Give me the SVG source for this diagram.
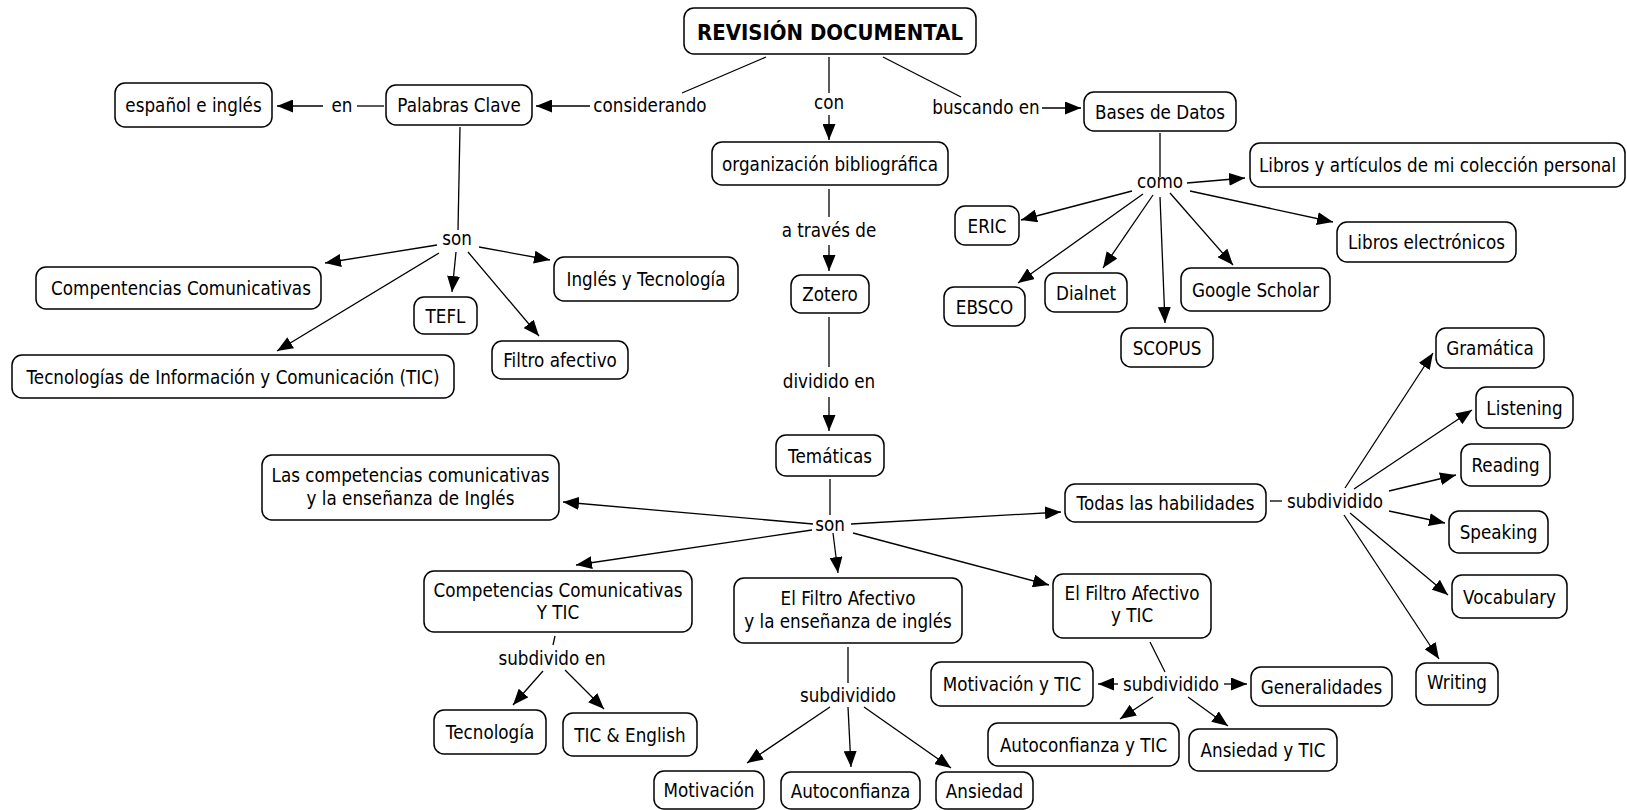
<svg xmlns="http://www.w3.org/2000/svg" width="1627" height="810" viewBox="0 0 1627 810">
<style>
.n rect{fill:#fff;stroke:#000;stroke-width:1.5}
text{font-family:"DejaVu Sans","Verdana",sans-serif;font-size:20px;fill:#000;text-anchor:middle}
.b{font-weight:bold;font-size:20.5px}
#connectors line{stroke:#000;stroke-width:1.3;fill:none}
#connectors line.a{marker-end:url(#ah)}
</style>
<defs>
<marker id="ah" markerUnits="userSpaceOnUse" markerWidth="16" markerHeight="13" refX="16" refY="6.5" orient="auto">
<path d="M0,0 L16,6.5 L0,13 z" fill="#000"/>
</marker>
</defs>
<rect width="1627" height="810" fill="#fff"/>
<g id="connectors">
<line x1="766" y1="57" x2="682" y2="93"/>
<line class="a" x1="590" y1="106" x2="536" y2="106"/>
<line x1="829" y1="57" x2="829" y2="93"/>
<line class="a" x1="829" y1="115" x2="829" y2="140"/>
<line x1="883" y1="57" x2="961" y2="97"/>
<line class="a" x1="1042" y1="108" x2="1081" y2="108"/>
<line x1="384" y1="106" x2="357" y2="106"/>
<line class="a" x1="323" y1="106" x2="277" y2="106"/>
<line x1="460" y1="127" x2="458" y2="230"/>
<line class="a" x1="437" y1="245" x2="325" y2="263"/>
<line class="a" x1="439" y1="253" x2="277" y2="351"/>
<line class="a" x1="456" y1="252" x2="452" y2="292"/>
<line class="a" x1="468" y1="252" x2="539" y2="336"/>
<line class="a" x1="479" y1="247" x2="550" y2="260"/>
<line x1="829" y1="189" x2="829" y2="217"/>
<line class="a" x1="829" y1="245" x2="829" y2="271"/>
<line x1="829" y1="317" x2="829" y2="367"/>
<line class="a" x1="829" y1="397" x2="829" y2="431"/>
<line x1="1160" y1="133" x2="1160" y2="177"/>
<line class="a" x1="1187" y1="183" x2="1245" y2="178"/>
<line class="a" x1="1132" y1="191" x2="1021" y2="220"/>
<line class="a" x1="1143" y1="194" x2="1018" y2="283"/>
<line class="a" x1="1153" y1="195" x2="1103" y2="268"/>
<line class="a" x1="1160" y1="197" x2="1165" y2="323"/>
<line class="a" x1="1170" y1="193" x2="1233" y2="265"/>
<line class="a" x1="1190" y1="191" x2="1333" y2="222"/>
<line x1="830" y1="479" x2="830" y2="515"/>
<line class="a" x1="813" y1="524" x2="563" y2="502"/>
<line class="a" x1="851" y1="524" x2="1061" y2="512"/>
<line class="a" x1="812" y1="530" x2="576" y2="565"/>
<line class="a" x1="833" y1="533" x2="838" y2="573"/>
<line class="a" x1="853" y1="533" x2="1049" y2="585"/>
<line x1="1270" y1="501" x2="1282" y2="501"/>
<line class="a" x1="1345" y1="488" x2="1433" y2="353"/>
<line class="a" x1="1354" y1="489" x2="1472" y2="410"/>
<line class="a" x1="1389" y1="491" x2="1456" y2="475"/>
<line class="a" x1="1389" y1="511" x2="1445" y2="523"/>
<line class="a" x1="1350" y1="513" x2="1448" y2="595"/>
<line class="a" x1="1344" y1="515" x2="1439" y2="659"/>
<line x1="555" y1="636" x2="553" y2="645"/>
<line class="a" x1="543" y1="671" x2="513" y2="705"/>
<line class="a" x1="565" y1="670" x2="604" y2="709"/>
<line x1="848" y1="647" x2="848" y2="683"/>
<line class="a" x1="830" y1="707" x2="747" y2="763"/>
<line class="a" x1="848" y1="707" x2="851" y2="767"/>
<line class="a" x1="864" y1="707" x2="951" y2="768"/>
<line x1="1150" y1="642" x2="1165" y2="672"/>
<line class="a" x1="1118" y1="684" x2="1098" y2="684"/>
<line class="a" x1="1224" y1="684" x2="1247" y2="684"/>
<line class="a" x1="1153" y1="697" x2="1120" y2="719"/>
<line class="a" x1="1188" y1="697" x2="1228" y2="726"/>
</g>
<g id="labels">
<text transform="matrix(0.84 0 0 1 342 112)">en</text>
<text transform="matrix(0.84 0 0 1 650 112)">considerando</text>
<text transform="matrix(0.84 0 0 1 829 109)">con</text>
<text transform="matrix(0.84 0 0 1 986 114)">buscando en</text>
<text transform="matrix(0.84 0 0 1 829 237)">a través de</text>
<text transform="matrix(0.84 0 0 1 829 388)">dividido en</text>
<text transform="matrix(0.84 0 0 1 457 245)">son</text>
<text transform="matrix(0.84 0 0 1 1160 188)">como</text>
<text transform="matrix(0.84 0 0 1 830 531)">son</text>
<text transform="matrix(0.84 0 0 1 1335 508)">subdividido</text>
<text transform="matrix(0.84 0 0 1 552 665)">subdivido en</text>
<text transform="matrix(0.84 0 0 1 848 702)">subdividido</text>
<text transform="matrix(0.84 0 0 1 1171 691)">subdividido</text>
</g>
<g id="title" class="n"><rect x="684" y="8" width="292" height="46" rx="10"/><text class="b" x="830" y="40" textLength="266" lengthAdjust="spacingAndGlyphs">REVISIÓN DOCUMENTAL</text></g>
<g id="espanol" class="n"><rect x="115" y="83" width="157" height="44" rx="10"/><text transform="matrix(0.84 0 0 1 193.5 112)">español e inglés</text></g>
<g id="palabras" class="n"><rect x="386" y="85" width="146" height="40" rx="10"/><text transform="matrix(0.84 0 0 1 459 112)">Palabras Clave</text></g>
<g id="bases" class="n"><rect x="1084" y="92" width="152" height="39" rx="10"/><text transform="matrix(0.84 0 0 1 1160 118.5)">Bases de Datos</text></g>
<g id="org" class="n"><rect x="712" y="142" width="236" height="43" rx="10"/><text transform="matrix(0.84 0 0 1 830 170.5)">organización bibliográfica</text></g>
<g id="libros_personal" class="n"><rect x="1250" y="143" width="375" height="44" rx="10"/><text transform="matrix(0.84 0 0 1 1437.5 172)">Libros y artículos de mi colección personal</text></g>
<g id="eric" class="n"><rect x="955" y="206" width="64" height="39" rx="10"/><text transform="matrix(0.84 0 0 1 987 232.5)">ERIC</text></g>
<g id="libros_elec" class="n"><rect x="1337" y="222" width="179" height="40" rx="10"/><text transform="matrix(0.84 0 0 1 1426.5 249)">Libros electrónicos</text></g>
<g id="ingles_tec" class="n"><rect x="554" y="257" width="184" height="44" rx="10"/><text transform="matrix(0.84 0 0 1 646 286)">Inglés y Tecnología</text></g>
<g id="compentencias" class="n"><rect x="36" y="267" width="285" height="42" rx="10"/><text transform="matrix(0.84 0 0 1 181 295)">Compentencias Comunicativas</text></g>
<g id="zotero" class="n"><rect x="791" y="275" width="78" height="38" rx="10"/><text transform="matrix(0.84 0 0 1 830 301)">Zotero</text></g>
<g id="dialnet" class="n"><rect x="1045" y="273" width="82" height="39" rx="10"/><text transform="matrix(0.84 0 0 1 1086 299.5)">Dialnet</text></g>
<g id="google" class="n"><rect x="1181" y="268" width="149" height="43" rx="10"/><text transform="matrix(0.84 0 0 1 1255.5 296.5)">Google Scholar</text></g>
<g id="ebsco" class="n"><rect x="944" y="287" width="81" height="39" rx="10"/><text transform="matrix(0.84 0 0 1 984.5 313.5)">EBSCO</text></g>
<g id="tefl" class="n"><rect x="414" y="297" width="63" height="37" rx="10"/><text transform="matrix(0.84 0 0 1 445.5 322.5)">TEFL</text></g>
<g id="scopus" class="n"><rect x="1121" y="328" width="92" height="39" rx="10"/><text transform="matrix(0.84 0 0 1 1167 354.5)">SCOPUS</text></g>
<g id="gramatica" class="n"><rect x="1436" y="328" width="108" height="40" rx="10"/><text transform="matrix(0.84 0 0 1 1490 355)">Gramática</text></g>
<g id="filtro_afectivo" class="n"><rect x="492" y="341" width="136" height="38" rx="10"/><text transform="matrix(0.84 0 0 1 560 367)">Filtro afectivo</text></g>
<g id="tic_long" class="n"><rect x="12" y="355" width="442" height="43" rx="10"/><text transform="matrix(0.84 0 0 1 233 383.5)">Tecnologías de Información y Comunicación (TIC)</text></g>
<g id="listening" class="n"><rect x="1476" y="387" width="97" height="41" rx="10"/><text transform="matrix(0.84 0 0 1 1524.5 414.5)">Listening</text></g>
<g id="tematicas" class="n"><rect x="776" y="435" width="108" height="41" rx="10"/><text transform="matrix(0.84 0 0 1 830 462.5)">Temáticas</text></g>
<g id="reading" class="n"><rect x="1461" y="444" width="89" height="42" rx="10"/><text transform="matrix(0.84 0 0 1 1505.5 472)">Reading</text></g>
<g id="las_comp" class="n"><rect x="262" y="455" width="297" height="65" rx="10"/><text transform="matrix(0.84 0 0 1 410.5 482)"><tspan x="0" y="0">Las competencias comunicativas</tspan><tspan x="0" y="23">y la enseñanza de Inglés</tspan></text></g>
<g id="todas" class="n"><rect x="1065" y="484" width="201" height="38" rx="10"/><text transform="matrix(0.84 0 0 1 1165.5 510)">Todas las habilidades</text></g>
<g id="speaking" class="n"><rect x="1449" y="511" width="99" height="42" rx="10"/><text transform="matrix(0.84 0 0 1 1498.5 539)">Speaking</text></g>
<g id="comp_tic" class="n"><rect x="424" y="571" width="268" height="61" rx="10"/><text transform="matrix(0.84 0 0 1 558 597)"><tspan x="0" y="0">Competencias Comunicativas</tspan><tspan x="0" y="22">Y TIC</tspan></text></g>
<g id="filtro_ing" class="n"><rect x="734" y="578" width="228" height="65" rx="10"/><text transform="matrix(0.84 0 0 1 848 605)"><tspan x="0" y="0">El Filtro Afectivo</tspan><tspan x="0" y="23">y la enseñanza de inglés</tspan></text></g>
<g id="filtro_tic" class="n"><rect x="1053" y="574" width="158" height="64" rx="10"/><text transform="matrix(0.84 0 0 1 1132 600)"><tspan x="0" y="0">El Filtro Afectivo</tspan><tspan x="0" y="22">y TIC</tspan></text></g>
<g id="vocabulary" class="n"><rect x="1452" y="575" width="115" height="43" rx="10"/><text transform="matrix(0.84 0 0 1 1509.5 603.5)">Vocabulary</text></g>
<g id="motivacion_tic" class="n"><rect x="931" y="662" width="162" height="44" rx="10"/><text transform="matrix(0.84 0 0 1 1012 691)">Motivación y TIC</text></g>
<g id="generalidades" class="n"><rect x="1251" y="667" width="141" height="39" rx="10"/><text transform="matrix(0.84 0 0 1 1321.5 693.5)">Generalidades</text></g>
<g id="writing" class="n"><rect x="1416" y="663" width="82" height="42" rx="10"/><text transform="matrix(0.84 0 0 1 1457 689)">Writing</text></g>
<g id="tecnologia" class="n"><rect x="434" y="710" width="112" height="44" rx="10"/><text transform="matrix(0.84 0 0 1 490 739)">Tecnología</text></g>
<g id="tic_english" class="n"><rect x="563" y="713" width="134" height="43" rx="10"/><text transform="matrix(0.84 0 0 1 630 741.5)">TIC &amp; English</text></g>
<g id="autoconf_tic" class="n"><rect x="988" y="723" width="191" height="43" rx="10"/><text transform="matrix(0.84 0 0 1 1083.5 751.5)">Autoconfianza y TIC</text></g>
<g id="ansiedad_tic" class="n"><rect x="1189" y="729" width="148" height="42" rx="10"/><text transform="matrix(0.84 0 0 1 1263 757)">Ansiedad y TIC</text></g>
<g id="motivacion" class="n"><rect x="654" y="771" width="110" height="38" rx="10"/><text transform="matrix(0.84 0 0 1 709 797)">Motivación</text></g>
<g id="autoconfianza" class="n"><rect x="781" y="772" width="139" height="37" rx="10"/><text transform="matrix(0.84 0 0 1 850.5 798)">Autoconfianza</text></g>
<g id="ansiedad" class="n"><rect x="936" y="772" width="97" height="37" rx="10"/><text transform="matrix(0.84 0 0 1 984.5 798)">Ansiedad</text></g>
</svg>
